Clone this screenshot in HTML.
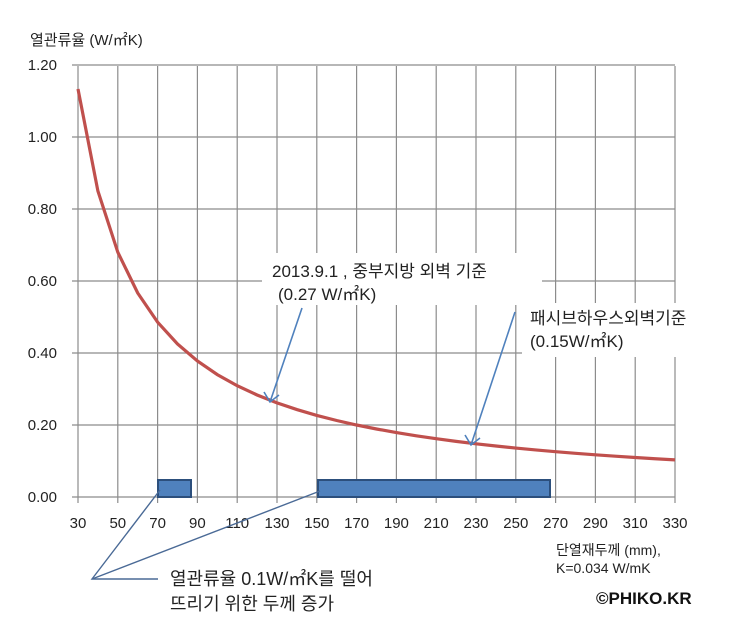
<!DOCTYPE html>
<html><head><meta charset="utf-8"><style>
body{margin:0;background:#fff;}
svg text{font-family:"Liberation Sans","Noto Sans CJK KR",sans-serif;fill:#222;}
</style></head><body>
<svg width="750" height="631" viewBox="0 0 750 631" xmlns="http://www.w3.org/2000/svg">
<rect width="750" height="631" fill="#fff"/>
<g stroke="#8c8c8c" stroke-width="1.2" id="grid"></g>
<g id="lbl" font-size="15"></g>
<text x="30" y="45" font-size="15">열관류율 (W/㎡K)</text>
<polyline id="curve" fill="none" stroke="#c0504d" stroke-width="3.2"/>
<rect x="158" y="480" width="33" height="17" fill="#4f81bd" stroke="#2c4f7c" stroke-width="2"/>
<rect x="318" y="480" width="232" height="17" fill="#4f81bd" stroke="#2c4f7c" stroke-width="2"/>
<rect x="262" y="253" width="280" height="52" fill="#fff"/>
<rect x="522" y="303" width="215" height="54" fill="#fff"/>
<text x="272" y="277" font-size="17">2013.9.1 , 중부지방 외벽 기준</text>
<text x="278" y="300" font-size="17">(0.27 W/㎡K)</text>
<text x="530" y="324" font-size="17">패시브하우스외벽기준</text>
<text x="530" y="347" font-size="17">(0.15W/㎡K)</text>
<g stroke="#4f81bd" stroke-width="1.6" fill="none">
<line x1="302" y1="308" x2="270" y2="402"/>
<polyline points="264,392 270,402 279,395"/>
<line x1="515" y1="312" x2="471" y2="445"/>
<polyline points="465,435 471,445 480,438"/>
</g>
<g stroke="#4a6a96" stroke-width="1.4" fill="none">
<polyline points="160,490 92,579 158,579"/>
<line x1="92" y1="579" x2="320" y2="491"/>
</g>
<text x="170" y="585" font-size="18">열관류율 0.1W/㎡K를 떨어</text>
<text x="170" y="610" font-size="18">뜨리기 위한 두께 증가</text>
<text x="556" y="555" font-size="14">단열재두께 (mm),</text>
<text x="556" y="573" font-size="14">K=0.034 W/mK</text>
<text x="596" y="604" font-size="17" font-weight="bold" style="fill:#111">©PHIKO.KR</text>
</svg>
<script>
var g=document.getElementById('grid'),l=document.getElementById('lbl'),ns='http://www.w3.org/2000/svg';
function X(d){return 78+(d-30)*597/300;}function Y(v){return 497-v*360;}
function ln(a,b,c,d){var e=document.createElementNS(ns,'line');e.setAttribute('x1',a);e.setAttribute('y1',b);e.setAttribute('x2',c);e.setAttribute('y2',d);g.appendChild(e);}
function tx(x,y,s,a){var e=document.createElementNS(ns,'text');e.setAttribute('x',x);e.setAttribute('y',y);e.setAttribute('text-anchor',a);e.textContent=s;l.appendChild(e);}
for(var d=30;d<=330;d+=20){ln(X(d),66,X(d),503);tx(X(d),528,d,'middle');}
for(var i=0;i<=6;i++){var v=i*0.2;ln(72,Y(v),X(330),Y(v));tx(57,Y(v)+5,v.toFixed(2),'end');}
var p=[];for(var d=30;d<=330;d+=10)p.push(X(d)+','+Y(0.034/(d/1000)));
document.getElementById('curve').setAttribute('points',p.join(' '));
</script>
</body></html>
